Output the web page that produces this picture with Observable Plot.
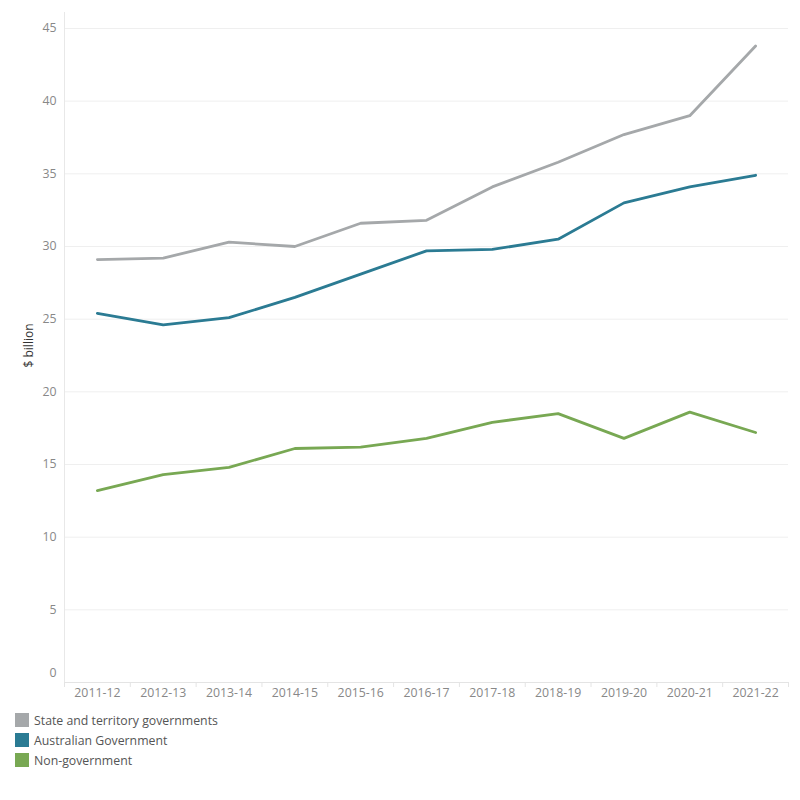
<!DOCTYPE html>
<html>
<head>
<meta charset="utf-8">
<script src="https://cdn.jsdelivr.net/npm/d3@7"></script>
<script src="https://cdn.jsdelivr.net/npm/@observablehq/plot@0.6"></script>
<style>
  body { margin: 0; background: #fff; font-family: "Open Sans", "Noto Sans", sans-serif; }
  #chart svg { display: block; }
  #legend { padding-left: 15px; margin-top: 10px; }
  .row { display: flex; align-items: center; height: 20px; font-size: 12.3px; color: #555; }
  .sw { width: 14px; height: 14px; margin-right: 5px; }
</style>
</head>
<body>
<div id="chart"></div>
<div id="legend"></div>
<script>
const years = ["2011-12","2012-13","2013-14","2014-15","2015-16","2016-17","2017-18","2018-19","2019-20","2020-21","2021-22"];
const seriesNames = ["State and territory governments","Australian Government","Non-government"];
const stateValues = [29.1, 29.2, 30.3, 30.0, 31.6, 31.8, 34.1, 35.8, 37.7, 39.0, 43.8];
const ausGovValues = [25.4, 24.6, 25.1, 26.5, 28.1, 29.7, 29.8, 30.5, 33.0, 34.1, 34.9];
const nonGovValues = [13.2, 14.3, 14.8, 16.1, 16.2, 16.8, 17.9, 18.5, 16.8, 18.6, 17.2];
const colors = ["#a5a8aa", "#2b7b93", "#78a853"];
const yTicks = [0, 5, 10, 15, 20, 25, 30, 35, 40, 45];

const allValues = [stateValues, ausGovValues, nonGovValues];
const data = [];
seriesNames.forEach((s, si) => {
  allValues[si].forEach((v, i) => data.push({series: s, i, year: years[i], value: v}));
});
const idx = years.map((d, i) => i);
const bounds = years.map((d, i) => i - 0.5).concat([years.length - 0.5]);

const plot = Plot.plot({
  width: 800,
  height: 700,
  marginLeft: 64,
  marginRight: 12,
  marginTop: 12,
  marginBottom: 18,
  style: {fontFamily: '"Open Sans", "Noto Sans", sans-serif', fontSize: "12px", background: "#fff"},
  x: {type: "linear", domain: [-0.5, years.length - 0.5]},
  y: {domain: [0, 46.1]},
  color: {domain: seriesNames, range: colors},
  marks: [
    Plot.gridY(yTicks.filter(d => d > 0), {stroke: "#efefef", strokeOpacity: 1}),
    Plot.ruleY([0], {stroke: "#e4e4e4"}),
    Plot.ruleX([-0.5], {stroke: "#e8e8e8"}),
    Plot.axisY(yTicks.filter(d => d > 0), {tickSize: 0, tickPadding: 8, fill: "#888", label: null, fontSize: 12.3}),
    Plot.axisY([0], {tickSize: 0, tickPadding: 8, fill: "#888", label: null, fontSize: 12.3, dy: -9}),
    Plot.axisX(bounds, {tickSize: 5, stroke: "#e4e4e4", tickFormat: () => "", label: null}),
    Plot.axisX(idx, {tickSize: 0, tickPadding: 6, fill: "#888", tickFormat: i => years[i], label: null, fontSize: 12.3}),
    Plot.text(["$ billion"], {frameAnchor: "left", textAnchor: "middle", dx: -35, dy: -2, rotate: -90, fill: "#333", fontSize: 12}),
    Plot.line(data, {x: "i", y: "value", z: "series", stroke: "series", strokeWidth: 2.8})
  ]
});
document.getElementById("chart").appendChild(plot);

const legend = document.getElementById("legend");
seriesNames.forEach((s, i) => {
  const row = document.createElement("div");
  row.className = "row";
  const sw = document.createElement("div");
  sw.className = "sw";
  sw.style.background = colors[i];
  const t = document.createElement("span");
  t.textContent = s;
  row.appendChild(sw);
  row.appendChild(t);
  legend.appendChild(row);
});
</script>
</body>
</html>
